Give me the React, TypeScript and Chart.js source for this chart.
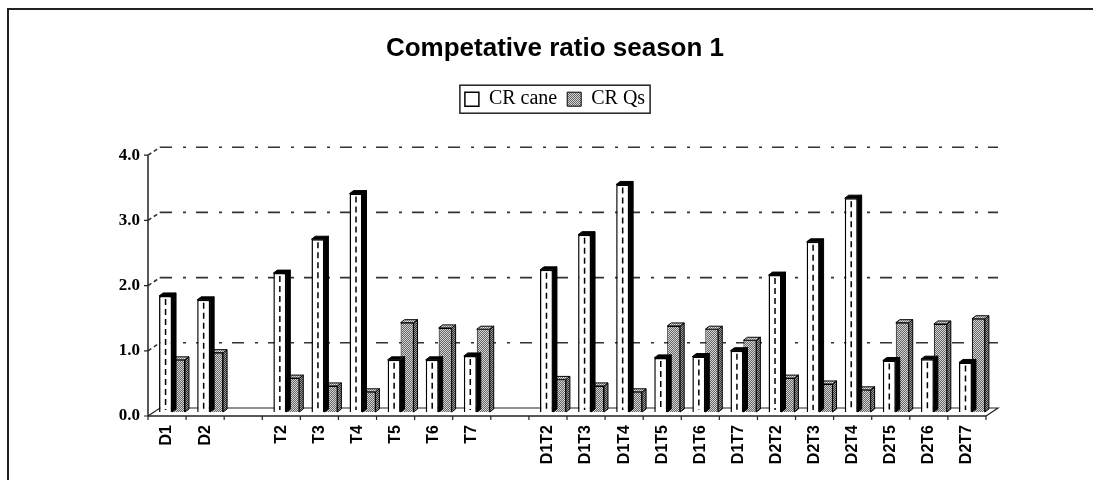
import React, { useEffect, useRef } from 'react';
import { Chart, registerables } from 'chart.js';

Chart.register(...registerables);

// ---------- data ----------
const categories = ['D1', 'D2', '', 'T2', 'T3', 'T4', 'T5', 'T6', 'T7', '', 'D1T2', 'D1T3', 'D1T4', 'D1T5', 'D1T6', 'D1T7', 'D2T2', 'D2T3', 'D2T4', 'D2T5', 'D2T6', 'D2T7'];
const crCane = [1.78, 1.72, null, 2.13, 2.65, 3.35, 0.8, 0.8, 0.86, null, 2.18, 2.72, 3.49, 0.83, 0.85, 0.94, 2.1, 2.61, 3.28, 0.79, 0.81, 0.76];
const crQs = [0.8, 0.91, null, 0.52, 0.4, 0.31, 1.37, 1.29, 1.27, null, 0.5, 0.4, 0.31, 1.32, 1.27, 1.1, 0.52, 0.43, 0.34, 1.37, 1.35, 1.43];
const yTicks = [0, 1, 2, 3, 4];
const seriesNames = ['CR cane', 'CR Qs'];
const titleText = 'Competative ratio season 1';

// ---------- geometry / style ----------
const CW = 1110;
const CH = 480;
const DX = 12; // floor / wall depth
const DY = -8;
const BX = 5; // bars sit mid-depth
const BY = -4;
const BDX = 4; // bar depth
const BDY = -3;

function pattern(ctx: CanvasRenderingContext2D, a: string, b: string) {
  const c = document.createElement('canvas');
  c.width = 2;
  c.height = 2;
  const g = c.getContext('2d')!;
  g.fillStyle = b;
  g.fillRect(0, 0, 2, 2);
  g.fillStyle = a;
  g.fillRect(0, 0, 1, 1);
  g.fillRect(1, 1, 1, 1);
  return ctx.createPattern(c, 'repeat')!;
}

export default function App() {
  const ref = useRef<HTMLCanvasElement | null>(null);

  useEffect(() => {
    const canvas = ref.current!;
    const c2d = canvas.getContext('2d')!;
    const qsFront = pattern(c2d, '#666666', '#d4d4d4');
    const qsSide = pattern(c2d, '#333333', '#9a9a9a');
    const qsTop = pattern(c2d, '#7a7a7a', '#e6e6e6');

    const excel3d = {
      id: 'excel3d',
      beforeDraw(chart: any) {
        const { ctx } = chart;
        ctx.save();
        ctx.fillStyle = '#fff';
        ctx.fillRect(0, 0, chart.width, chart.height);
        ctx.strokeStyle = '#222';
        ctx.lineWidth = 2;
        ctx.beginPath();
        ctx.moveTo(8, chart.height);
        ctx.lineTo(8, 9);
        ctx.lineTo(chart.width, 9);
        ctx.stroke();
        ctx.restore();
      },
      beforeDatasetsDraw(chart: any) {
        const { ctx, chartArea } = chart;
        const ys = chart.scales.y;
        const L = chartArea.left;
        const R = chartArea.right;
        const B = ys.getPixelForValue(0);
        ctx.save();
        ctx.strokeStyle = '#333';
        ctx.lineWidth = 1.6;
        yTicks.forEach((v) => {
          if (v === 0) return;
          const yy = ys.getPixelForValue(v);
          ctx.setLineDash([12, 11, 3, 10]);
          ctx.beginPath();
          ctx.moveTo(L + DX, yy + DY);
          ctx.lineTo(R + DX, yy + DY);
          ctx.stroke();
          ctx.setLineDash([4, 3]);
          ctx.beginPath();
          ctx.moveTo(L, yy);
          ctx.lineTo(L + DX, yy + DY);
          ctx.stroke();
        });
        ctx.setLineDash([]);
        ctx.strokeStyle = '#222';
        ctx.lineWidth = 1.2;
        ctx.beginPath();
        ctx.moveTo(L, B);
        ctx.lineTo(L + DX, B + DY);
        ctx.lineTo(R + DX, B + DY);
        ctx.lineTo(R, B);
        ctx.stroke();
        ctx.lineWidth = 1.5;
        ctx.beginPath();
        ctx.moveTo(L, B);
        ctx.lineTo(R, B);
        ctx.moveTo(L, ys.getPixelForValue(yTicks[yTicks.length - 1]));
        ctx.lineTo(L, B);
        ctx.stroke();
        ctx.lineWidth = 1.2;
        ctx.beginPath();
        yTicks.forEach((v) => {
          const yy = ys.getPixelForValue(v);
          ctx.moveTo(L - 4, yy);
          ctx.lineTo(L, yy);
        });
        const n = categories.length;
        for (let i = 0; i <= n; i++) {
          const xx = L + (i * (R - L)) / n;
          ctx.moveTo(xx, B);
          ctx.lineTo(xx, B + 4);
        }
        ctx.stroke();
        ctx.restore();
        ctx.save();
        ctx.translate(BX, BY);
      },
      afterDatasetDraw(chart: any, args: any) {
        const { ctx } = chart;
        const idx = args.index;
        const data = chart.data.datasets[idx].data;
        args.meta.data.forEach((bar: any, i: number) => {
          if (data[i] == null) return;
          const { x, y, base, width } = bar.getProps(['x', 'y', 'base', 'width'], true);
          const l = x - width / 2;
          const r = x + width / 2;
          ctx.save();
          ctx.lineWidth = 1;
          ctx.strokeStyle = '#000';
          // side face
          ctx.beginPath();
          ctx.moveTo(r, y);
          ctx.lineTo(r + BDX, y + BDY);
          ctx.lineTo(r + BDX, base + BDY);
          ctx.lineTo(r, base);
          ctx.closePath();
          ctx.fillStyle = idx === 0 ? '#000' : qsSide;
          ctx.fill();
          ctx.stroke();
          // top face
          ctx.beginPath();
          ctx.moveTo(l, y);
          ctx.lineTo(l + BDX, y + BDY);
          ctx.lineTo(r + BDX, y + BDY);
          ctx.lineTo(r, y);
          ctx.closePath();
          ctx.fillStyle = idx === 0 ? '#000' : qsTop;
          ctx.fill();
          ctx.stroke();
          if (idx === 0) {
            ctx.setLineDash([6, 4]);
            ctx.lineWidth = 1.5;
            ctx.beginPath();
            ctx.moveTo(x, y + 3);
            ctx.lineTo(x, base - 2);
            ctx.stroke();
          }
          ctx.restore();
        });
      },
      afterDatasetsDraw(chart: any) {
        chart.ctx.restore();
      },
      afterDraw(chart: any) {
        const lg = chart.legend;
        if (!lg || !lg.legendHitBoxes || !lg.legendHitBoxes.length) return;
        const hb = lg.legendHitBoxes;
        let left = Infinity;
        let right = -Infinity;
        let top = Infinity;
        let bottom = -Infinity;
        hb.forEach((h: any) => {
          left = Math.min(left, h.left);
          right = Math.max(right, h.left + h.width);
          top = Math.min(top, h.top);
          bottom = Math.max(bottom, h.top + h.height);
        });
        const { ctx } = chart;
        ctx.save();
        ctx.strokeStyle = '#222';
        ctx.lineWidth = 1.5;
        ctx.strokeRect(left - 5, top - 4, right - left + 10, bottom - top + 8);
        ctx.restore();
      },
    };

    const chart = new Chart(canvas, {
      type: 'bar',
      data: {
        labels: categories,
        datasets: [
          {
            label: seriesNames[0],
            data: crCane,
            xAxisID: 'x',
            yAxisID: 'y',
            backgroundColor: '#ffffff',
            borderColor: '#000000',
            borderWidth: 1.5,
            categoryPercentage: 0.68,
            barPercentage: 1,
            clip: false as any,
          },
          {
            label: seriesNames[1],
            data: crQs,
            xAxisID: 'x',
            yAxisID: 'y',
            backgroundColor: qsFront as any,
            borderColor: '#000000',
            borderWidth: 1,
            categoryPercentage: 0.68,
            barPercentage: 1,
            clip: false as any,
          },
        ],
      },
      options: {
        animation: false,
        responsive: false,
        devicePixelRatio: 1,
        layout: { padding: { top: 8, left: 0, right: 0, bottom: 0 } },
        plugins: {
          tooltip: { enabled: false },
          title: {
            display: true,
            text: titleText,
            color: '#000',
            font: { family: 'Liberation Sans', size: 26, weight: 'bold' },
            padding: { top: 25, bottom: 15 },
          },
          legend: {
            display: true,
            position: 'top',
            labels: {
              color: '#000',
              font: { family: 'Liberation Serif', size: 20 },
              boxWidth: 14,
              boxHeight: 14,
              padding: 10,
            },
          },
        },
        scales: {
          x: {
            type: 'category',
            offset: true,
            grid: { display: false, drawTicks: false },
            border: { display: false },
            ticks: {
              autoSkip: false,
              minRotation: 90,
              maxRotation: 90,
              padding: 9,
              color: '#000',
              font: { family: 'Liberation Sans', size: 16, weight: 'bold' },
            },
            afterFit: (s: any) => {
              s.height = 64;
            },
          },
          y: {
            min: 0,
            max: 4,
            grid: { display: false, drawTicks: false },
            border: { display: false },
            afterBuildTicks: (s: any) => {
              s.ticks = yTicks.map((v) => ({ value: v }));
            },
            ticks: {
              padding: 8,
              color: '#000',
              font: { family: 'Liberation Serif', size: 17, weight: 'bold' },
              callback: (v: any) => Number(v).toFixed(1),
            },
            afterFit: (s: any) => {
              s.width = 148;
            },
          },
          gap: {
            type: 'linear',
            axis: 'x',
            position: 'top',
            display: true,
            grid: { display: false, drawTicks: false },
            border: { display: false },
            ticks: { display: false },
            afterFit: (s: any) => {
              s.height = 36;
              s.paddingLeft = 0;
              s.paddingRight = 0;
            },
          },
          side: {
            type: 'linear',
            axis: 'y',
            position: 'right',
            display: true,
            grid: { display: false, drawTicks: false },
            border: { display: false },
            ticks: { display: false },
            afterFit: (s: any) => {
              s.width = 124;
              s.paddingTop = 0;
              s.paddingBottom = 0;
            },
          },
        },
      },
      plugins: [excel3d],
    });
    return () => chart.destroy();
  }, []);

  return (
    <div style={{ position: 'fixed', left: 0, top: 0, width: 1093, height: 480, overflow: 'hidden', background: '#fff' }}>
      <canvas ref={ref} width={CW} height={CH} style={{ display: 'block' }} />
    </div>
  );
}
